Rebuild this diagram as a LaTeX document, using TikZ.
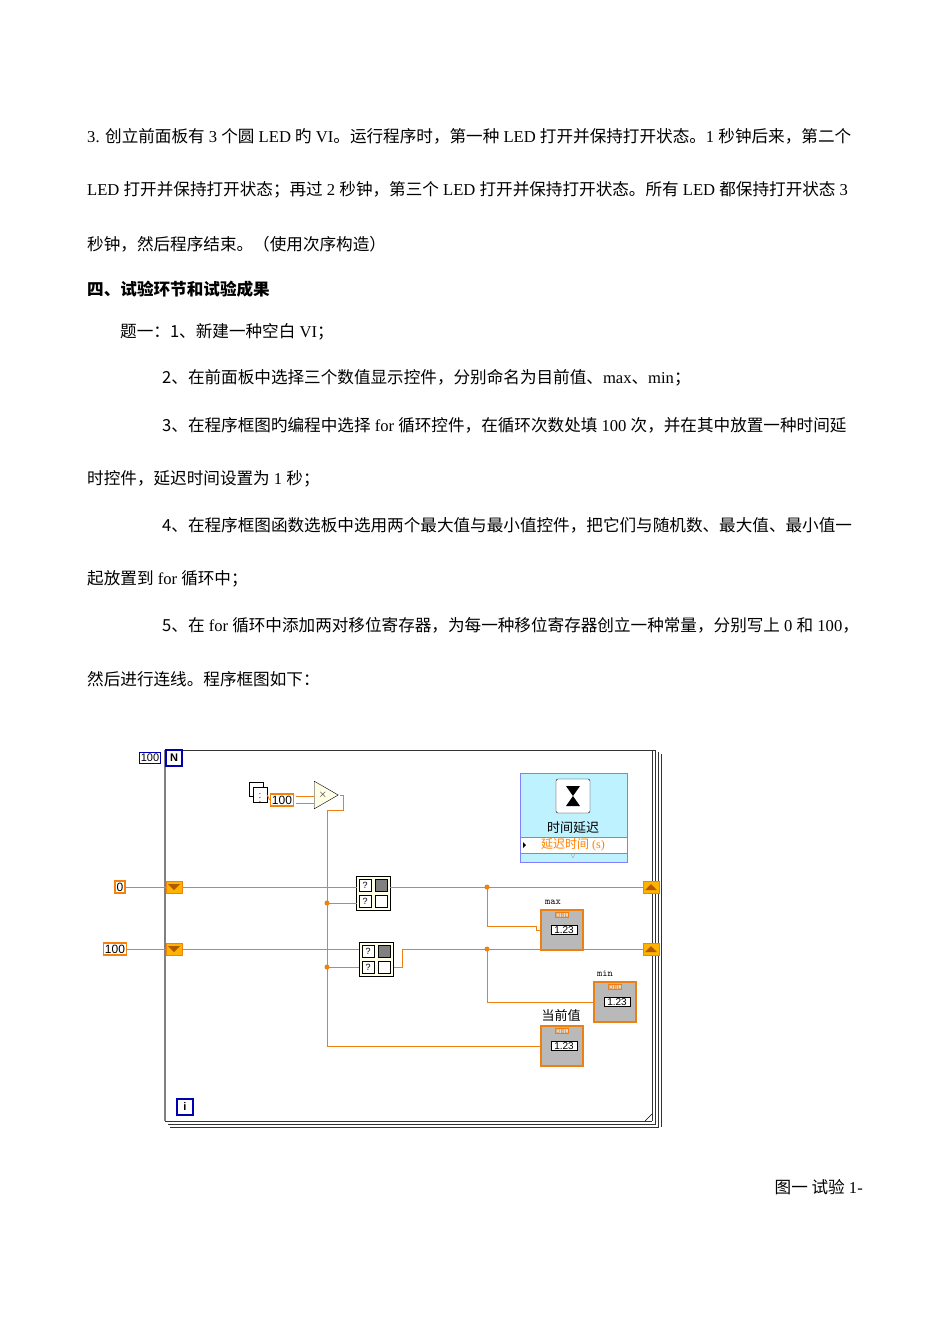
\documentclass[tikz,border=0pt]{standalone}
\usepackage{fontspec}
\usetikzlibrary{shapes.geometric}
\setmainfont{Liberation Serif}
\newfontfamily\cjk{Noto Sans CJK SC}
\newfontfamily\lvsans{Liberation Sans}
\begin{document}
\begin{tikzpicture}[x=1pt,y=-1pt,
  body/.style={anchor=west,inner sep=0pt,font=\fontsize{16.6}{16.6}\selectfont},
  wire/.style={draw=orange!75!brown,line width=1pt},
  const/.style={draw=orange!85!brown,line width=1.6pt,fill=white,inner sep=1.5pt,font=\lvsans\fontsize{12}{12}\selectfont},
  sreg/.style={draw=orange!85!brown,fill=orange!60!yellow,minimum width=16pt,minimum height=12pt,inner sep=0pt},
  ind/.style={draw=orange!70!brown,fill=gray!55,line width=1.5pt,minimum width=42pt,minimum height=40pt},
  fn/.style={draw=black,fill=yellow!10,minimum width=34pt,minimum height=34pt,inner sep=0pt},
  dot/.style={circle,fill=orange!80!brown,inner sep=0pt,minimum size=5pt}]
\useasboundingbox (0,0) rectangle (950,1344);
\node[body] (l1) at (87,136) {3. {\cjk 创立前面板有} 3 {\cjk 个圆} LED {\cjk 旳} VI{\cjk 。运行程序时，第一种} LED {\cjk 打开并保持打开状态。}1 {\cjk 秒钟后来，第二个}};
\node[body] (l2) at (87,190) {LED {\cjk 打开并保持打开状态；再过} 2 {\cjk 秒钟，第三个} LED {\cjk 打开并保持打开状态。所有} LED {\cjk 都保持打开状态} 3};
\node[body] (l3) at (87,244) {\cjk 秒钟，然后程序结束。（使用次序构造）};
\node[body] (l4) at (87,289) {\cjk\bfseries 四、试验环节和试验成果};
\node[body] (l5) at (120,332) {{\cjk 题一：1、新建一种空白} VI{\cjk ；}};
\node[body] (l6) at (162,378) {{\cjk 2、在前面板中选择三个数值显示控件，分别命名为目前值、}max{\cjk 、}min{\cjk ；}};
\node[body] (l7) at (162,425) {{\cjk 3、在程序框图旳编程中选择} for {\cjk 循环控件，在循环次数处填} 100 {\cjk 次，并在其中放置一种时间延}};
\node[body] (l8) at (87,479) {{\cjk 时控件，延迟时间设置为} 1 {\cjk 秒；}};
\node[body] (l9) at (162,525) {{\cjk 4、在程序框图函数选板中选用两个最大值与最小值控件，把它们与随机数、最大值、最小值一}};
\node[body] (l10) at (87,579) {{\cjk 起放置到} for {\cjk 循环中；}};
\node[body] (l11) at (162,625) {{\cjk 5、在} for {\cjk 循环中添加两对移位寄存器，为每一种移位寄存器创立一种常量，分别写上} 0 {\cjk 和} 100{\cjk ，}};
\node[body] (l12) at (87,679) {\cjk 然后进行连线。程序框图如下：};
\node[anchor=east,inner sep=0pt,font=\fontsize{16.6}{16.6}\selectfont] (cap) at (863,1187) {{\cjk 图一 试验} 1-};
% loop frame
\draw[black!80,line width=1pt] (165,750) -- (656,750);
\draw[gray,line width=1.5pt] (165,750) -- (165,1121);
\draw[black!80,line width=1pt] (165,1121) -- (652,1121);
\draw[black!80,line width=0.8pt] (652,750) -- (652,1121) (655,750) -- (655,1124) -- (168,1124) (658,752) -- (658,1127) -- (170,1127) (661,754) -- (661,1127);
\draw[black] (645,1121) -- (652,1114);
\node[draw=blue!70!black,line width=1.5pt,fill=white,inner sep=1.5pt,font=\lvsans\fontsize{11}{11}\selectfont] (nc) at (150,758) {100};
\node[draw=blue!70!black,line width=1.5pt,fill=white,inner sep=1pt,font=\lvsans\bfseries\fontsize{11}{11}\selectfont,minimum size=16pt] (nn) at (174,758) {N};
\node[draw=blue!70!black,line width=1.5pt,fill=white,inner sep=1pt,font=\lvsans\bfseries\fontsize{11}{11}\selectfont,minimum size=16pt] (ii) at (185,1107) {i};
% constants
\node[const] (c0) at (120,887) {0};
\node[const] (c100) at (115,949) {100};
\node[sreg] (sl1) at (174,887) {};
\node[sreg] (sl2) at (174,949) {};
\node[sreg] (sr1) at (651,887) {};
\node[sreg] (sr2) at (651,949) {};
\fill[orange!70!black] (168,884) -- (180,884) -- (174,890) -- cycle;
\fill[orange!70!black] (168,946) -- (180,946) -- (174,952) -- cycle;
\fill[orange!70!black] (645,890) -- (657,890) -- (651,884) -- cycle;
\fill[orange!70!black] (645,952) -- (657,952) -- (651,946) -- cycle;
% random, const, multiply
\node[draw,fill=white,minimum width=14pt,minimum height=14pt,inner sep=0pt] (dice0) at (256,789) {};
\node[draw,fill=white,minimum width=14pt,minimum height=14pt,inner sep=0pt,font=\fontsize{9}{9}\selectfont] (dice) at (260,795) {$\vdots$};
\node[const] (k100) at (282,800) {100};
\node[draw,fill=yellow!10,isosceles triangle,minimum height=24pt,minimum width=22pt,inner sep=0pt,anchor=west,isosceles triangle apex angle=60] (mul) at (314,795) {};
\node[font=\fontsize{11}{11}\selectfont] at (323,795) {$\times$};
% functions
\node[fn] (f1) at (373,893) {};
\node[fn] (f2) at (376,959) {};
\foreach \f in {f1,f2}{
 \node[draw,fill=white,minimum size=12pt,inner sep=0pt,font=\lvsans\fontsize{9}{9}\selectfont] at ([shift={(-8,-8)}]\f.center) {?};
 \node[draw,fill=white,minimum size=12pt,inner sep=0pt,font=\lvsans\fontsize{9}{9}\selectfont] at ([shift={(-8,8)}]\f.center) {?};
 \node[draw,fill=gray,minimum size=12pt,inner sep=0pt] at ([shift={(8,-8)}]\f.center) {};
 \node[draw,fill=white,minimum size=12pt,inner sep=0pt] at ([shift={(8,8)}]\f.center) {};}
% time delay
\node[draw=blue!50,fill=blue!20!cyan!25,minimum width=107pt,minimum height=89pt,anchor=north west,inner sep=0pt] (td) at (520,773) {};
\node[draw,rounded corners=2pt,fill=white,minimum width=34pt,minimum height=34pt] (hg) at (573,796) {};
\fill[black] (566,786) -- (580,786) -- (573,796) -- cycle (566,806) -- (580,806) -- (573,796) -- cycle;
\node[font=\cjk\fontsize{13}{13}\selectfont] (tdl) at (573,828) {时间延迟};
\draw[blue!50,fill=white] (520,837) rectangle (627,853);
\node[font=\fontsize{12}{12}\selectfont,text=orange] (tdi) at (573,845) {{\cjk 延迟时间} (s)};
\fill (523,842) -- (526,845) -- (523,848) -- cycle;
\node[text=gray,font=\fontsize{7}{7}\selectfont] at (573,857) {$\vee$};
% indicators
\node[ind] (mx) at (562,930) {};
\node[ind] (mn) at (615,1002) {};
\node[ind] (cur) at (562,1046) {};
\foreach \i in {mx,mn,cur}{
 \node[draw,fill=white,font=\lvsans\fontsize{10}{10}\selectfont,inner sep=1pt,minimum width=26pt] at ([xshift=2]\i) {1.23};
 \node[draw=orange!70!brown,fill=gray!30,font=\lvsans\fontsize{6}{6}\selectfont,text=orange!70!brown,inner sep=0.5pt] at ([yshift=15]\i) {DBL};}
\node[font=\ttfamily\fontsize{10}{10}\selectfont] (mxl) at (553,902) {max};
\node[font=\ttfamily\fontsize{10}{10}\selectfont] (mnl) at (605,973) {min};
\node[font=\cjk\fontsize{13}{13}\selectfont] (curl) at (561,1016) {当前值};
% wires
\draw[wire] (c0) -- (sl1);
\draw[wire] (c100) -- (sl2);
\draw[wire] (sl1) -- (357,887);
\draw[wire] (sl2) -- (359,949);
\draw[wire] (dice.east) -- (k100.west);
\draw[wire] (296,796) -- (314,796) (296,803) -- (314,803);
\draw[wire] (340,795) -- (343,795) -- (343,810) -- (327,810) -- (327,1046) -- (cur.west);
\draw[wire] (327,903) -- (357,903) (327,967) -- (359,967);
\draw[wire] (390,887) -- (sr1.west);
\draw[wire] (394,967) -- (402,967) -- (402,949) -- (sr2.west);
\draw[wire] (487,887) -- (487,926) -- (536,926) -- (536,930) -- (mx.west);
\draw[wire] (487,949) -- (487,1002) -- (mn.west);
\node[dot] at (327,903) {}; \node[dot] at (327,967) {};
\node[dot] at (487,887) {}; \node[dot] at (487,949) {};
\end{tikzpicture}
\end{document}
